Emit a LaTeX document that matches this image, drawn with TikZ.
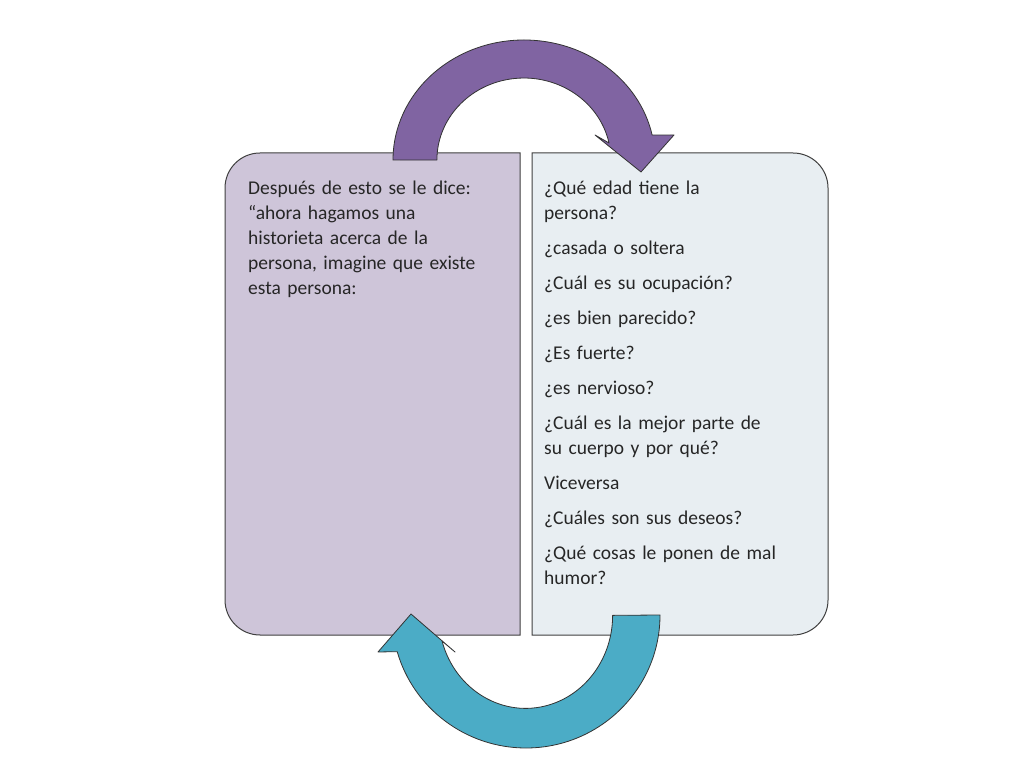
\documentclass[tikz,border=0pt]{standalone}
\usepackage{fontspec}
\setmainfont{Carlito}
\begin{document}
\begin{tikzpicture}[x=1pt,y=1pt,
  boxline/.style={draw=black!75,line width=1pt},
  txt/.style={anchor=north west,align=left,inner sep=0pt,text width=275pt,font=\fontsize{19.5}{25}\selectfont,text=black!85},
  arrowline/.style={draw=black!80,line width=0.8pt,line join=round}]
\useasboundingbox (0,0) rectangle (1024,768);
\fill[white] (0,0) rectangle (1024,768);
% left box
\path[boxline,fill={rgb,255:red,206;green,197;blue,217}]
  (520,615) -- (260,615) [rounded corners=35pt] -- (225,615) -- (225,133) [sharp corners] -- (520,133) -- cycle;
% right box
\path[boxline,fill={rgb,255:red,232;green,238;blue,242}]
  (532,615) [rounded corners=35pt] -- (828,615) -- (828,133) [sharp corners] -- (532,133) -- cycle;
% texts
\node[txt] (lt) at (248,587) {Después de esto se le dice:\\ “ahora hagamos una\\ historieta acerca de la\\ persona, imagine que existe\\ esta persona:};
\node[txt] (rt) at (544,587) {\setlength{\parskip}{10pt}¿Qué edad tiene la\\ persona?\par
¿casada o soltera\par
¿Cuál es su ocupación?\par
¿es bien parecido?\par
¿Es fuerte?\par
¿es nervioso?\par
¿Cuál es la mejor parte de\\ su cuerpo y por qué?\par
Viceversa\par
¿Cuáles son sus deseos?\par
¿Qué cosas le ponen de mal\\ humor?};
% purple arrow
\path[arrowline,fill={rgb,255:red,128;green,100;blue,162}]
  (393,608) arc[start angle=180,end angle=12,x radius=131,y radius=120]
  -- (674,633) -- (641,596) -- (595,633) -- (609,625)
  arc[start angle=12,end angle=180,x radius=87,y radius=82] -- cycle;
% blue arrow
\path[arrowline,fill={rgb,255:red,75;green,172;blue,198}]
  (660,153) arc[start angle=0,end angle=-164,x radius=134,y radius=133]
  -- (378,116) -- (411,154) -- (455,116) -- (442,127)
  arc[start angle=-164,end angle=0,x radius=87,y radius=93] -- cycle;
\end{tikzpicture}
\end{document}
